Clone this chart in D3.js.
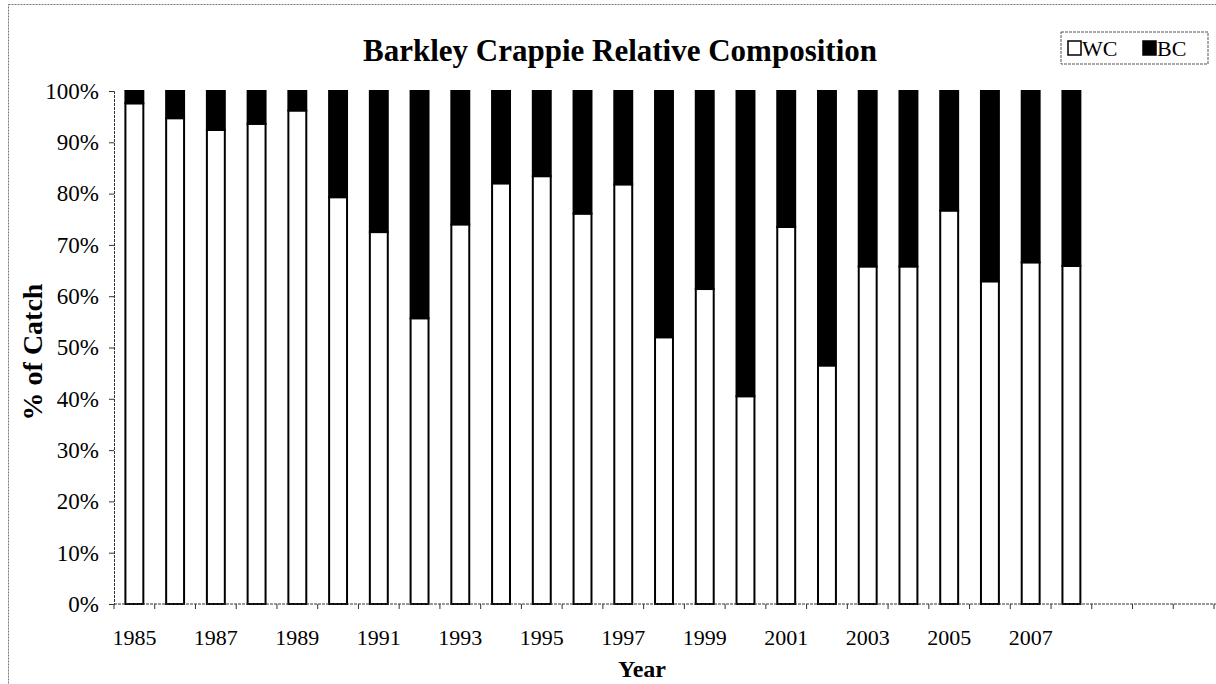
<!DOCTYPE html>
<html>
<head>
<meta charset="utf-8">
<script src="https://cdn.jsdelivr.net/npm/d3@7"></script>
<style>
  body { margin: 0; background: #fff; }
  text { font-family: "Liberation Serif", "Times New Roman", serif; fill: #000; }
</style>
</head>
<body>
<svg id="chart" width="1216" height="684"></svg>
<script>
// data (WC share in %, BC is the rest)
var years = [1985, 1986, 1987, 1988, 1989, 1990, 1991, 1992, 1993, 1994, 1995, 1996,
  1997, 1998, 1999, 2000, 2001, 2002, 2003, 2004, 2005, 2006, 2007, 2008];
var wc = [97.6, 94.7, 92.4, 93.6, 96.2, 79.3, 72.5, 55.7, 74.0, 82.0, 83.4, 76.1,
  81.8, 52.0, 61.4, 40.5, 73.5, 46.5, 65.8, 65.8, 76.7, 62.9, 66.6, 65.9];
var bc = wc.map(function (v) { return 100 - v; });
var emptySlots = ["e1", "e2", "e3"];   // axis runs on past the last bar
var yTicks = [0, 10, 20, 30, 40, 50, 60, 70, 80, 90, 100];
var seriesNames = ["WC", "BC"];

var svg = d3.select("#chart");
var margin = { top: 91, right: 0, bottom: 80, left: 114 },
  width = 1216 - margin.left - margin.right,
  height = 684 - margin.top - margin.bottom;

// outer frame of the scanned chart
svg.append("rect")
  .attr("x", 8.5).attr("y", 4.5)
  .attr("width", 1216).attr("height", 700)
  .style("fill", "none").style("stroke", "#777").style("stroke-dasharray", "2,1");

var g = svg.append("g")
  .attr("transform", "translate(" + margin.left + "," + margin.top + ")");

var x = d3.scaleBand()
  .domain(years.map(String).concat(emptySlots))
  .range([0, 1100])
  .paddingInner(0.56)
  .paddingOuter(0.28);

var y = d3.scaleLinear().domain([0, 100]).range([513, 0]);

var rows = years.map(function (yr, i) { return { year: String(yr), WC: wc[i], BC: bc[i] }; });
var stacked = d3.stack().keys(seriesNames)(rows);
var fills = { WC: "#fff", BC: "#000" };

g.selectAll(".series")
  .data(stacked)
  .enter().append("g")
  .attr("class", "series")
  .style("fill", function (d) { return fills[d.key]; })
  .selectAll("rect")
  .data(function (d) { return d; })
  .enter().append("rect")
  .attr("x", function (d) { return x(d.data.year); })
  .attr("y", function (d) { return y(d[1]); })
  .attr("width", x.bandwidth())
  .attr("height", function (d) { return y(d[0]) - y(d[1]); })
  .style("stroke", "#000")
  .style("stroke-width", 2);

// y axis
var yAxis = g.append("g")
  .call(d3.axisLeft(y).tickValues(yTicks).tickSize(5).tickPadding(10)
    .tickFormat(function (d) { return d + "%"; }));
yAxis.select(".domain").style("stroke", "#333").style("stroke-dasharray", "3,1");
yAxis.selectAll(".tick line").style("stroke", "#333");
yAxis.selectAll("text").style("font-size", "23px");

// x axis: tick marks sit between categories, labels every other year
var step = x.step();
var firstEdge = x(String(years[0])) - (step - x.bandwidth()) / 2;
var bounds = d3.range(0, years.length + emptySlots.length + 1);
var xAxisG = g.append("g").attr("transform", "translate(0," + 513 + ")");
xAxisG.append("line")
  .attr("x1", 0).attr("x2", width)
  .style("stroke", "#333").style("stroke-dasharray", "3,1");
xAxisG.selectAll(".btick")
  .data(bounds)
  .enter().append("line")
  .attr("class", "btick")
  .attr("x1", function (k) { return firstEdge + k * step; })
  .attr("x2", function (k) { return firstEdge + k * step; })
  .attr("y1", 0).attr("y2", 5)
  .style("stroke", "#333");
xAxisG.selectAll(".xlab")
  .data(years.filter(function (yr, i) { return i % 2 === 0; }))
  .enter().append("text")
  .attr("class", "xlab")
  .attr("x", function (yr) { return x(String(yr)) + x.bandwidth() / 2; })
  .attr("y", 41)
  .attr("text-anchor", "middle")
  .style("font-size", "22px")
  .text(function (yr) { return yr; });

// titles
svg.append("text")
  .attr("x", 620).attr("y", 61)
  .attr("text-anchor", "middle")
  .style("font-size", "31px").style("font-weight", "bold")
  .text("Barkley Crappie Relative Composition");

svg.append("text")
  .attr("x", 642).attr("y", 677)
  .attr("text-anchor", "middle")
  .style("font-size", "24px").style("font-weight", "bold")
  .text("Year");

svg.append("text")
  .attr("transform", "translate(42,352) rotate(-90)")
  .attr("text-anchor", "middle")
  .style("font-size", "28px").style("font-weight", "bold")
  .text("% of Catch");

// legend
var legend = svg.append("g").attr("transform", "translate(1061,32)");
legend.append("rect")
  .attr("width", 147).attr("height", 32)
  .style("fill", "#fff").style("stroke", "#555").style("stroke-dasharray", "3,1");
var li = legend.selectAll(".li")
  .data(seriesNames)
  .enter().append("g")
  .attr("class", "li")
  .attr("transform", function (d, i) { return "translate(" + (7 + i * 75) + ",0)"; });
li.append("rect")
  .attr("x", 0).attr("y", 9).attr("width", 13).attr("height", 14)
  .style("fill", function (d) { return fills[d]; })
  .style("stroke", "#000").style("stroke-width", 1.5);
li.append("text")
  .attr("x", 14).attr("y", 24)
  .style("font-size", "22px")
  .text(function (d) { return d; });
</script>
</body>
</html>
